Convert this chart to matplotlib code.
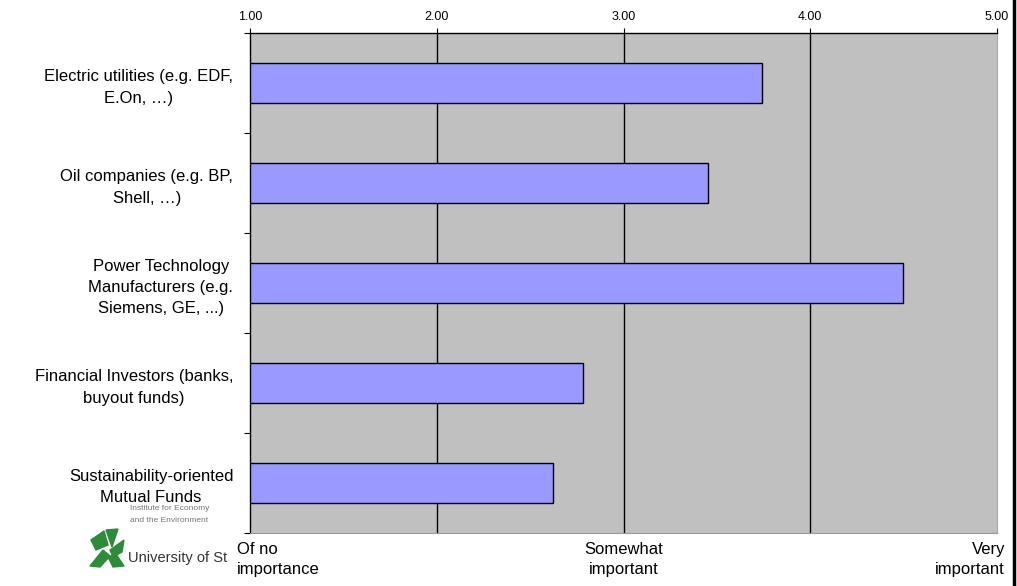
import matplotlib
matplotlib.use("Agg")
import matplotlib.pyplot as plt
from matplotlib.patches import Polygon
from matplotlib.lines import Line2D

plt.rcParams['font.family'] = ['Liberation Sans', 'DejaVu Sans']

categories = ["Electric utilities (e.g. EDF,\nE.On, \u2026)",
              "Oil companies (e.g. BP,\nShell, \u2026)",
              "Power Technology\nManufacturers (e.g.\nSiemens, GE, ...)",
              "Financial Investors (banks,\nbuyout funds)",
              "Sustainability-oriented\nMutual Funds"]
values = [3.74, 3.45, 4.495, 2.785, 2.625]
xticks = [1.0, 2.0, 3.0, 4.0, 5.0]
xtick_labels = ["1.00", "2.00", "3.00", "4.00", "5.00"]
scale_labels = ["Of no\nimportance", "Somewhat\nimportant", "Very\nimportant"]
scale_pos = [1.0, 3.0, 5.0]

W, H = 1017, 586
fig = plt.figure(figsize=(W / 100, H / 100), dpi=100)
fig.patch.set_facecolor('white')

# overlay for logo (behind main axes)
ov = fig.add_axes([0, 0, 1, 1], zorder=0)
ov.set_xlim(0, W)
ov.set_ylim(H, 0)
ov.axis('off')
green = '#2e8b3a'
ov.add_patch(Polygon([(91, 540), (104, 531), (108, 545), (96, 550)], closed=True, color=green))
ov.add_patch(Polygon([(106, 530), (118, 529), (112, 547)], closed=True, color=green))
ov.add_patch(Polygon([(90, 566), (103, 550), (110, 556), (100, 567)], closed=True, color=green))
ov.add_patch(Polygon([(110, 550), (124, 540), (122, 552), (113, 557)], closed=True, color=green))
ov.add_patch(Polygon([(108, 557), (116, 554), (124, 566), (113, 567)], closed=True, color=green))
ov.text(130, 509, "Institute for Economy", fontsize=6.0, color='#777777', va='center', ha='left')
ov.text(130, 521, "and the Environment", fontsize=6.0, color='#777777', va='center', ha='left')
ov.text(128, 558, "University of St", fontsize=10.5, color='#333333', va='center', ha='left')

ax = fig.add_axes([250 / W, 1 - 533 / H, (997 - 250) / W, 500 / H], zorder=2)
ax.set_facecolor('#C0C0C0')
ypos = list(range(len(categories)))
ax.barh(ypos, [v - 1 for v in values], left=1, height=0.4, color='#9999FF',
        edgecolor='black', linewidth=1.0, zorder=3)
ax.set_xlim(1, 5)
ax.set_ylim(len(categories) - 0.5, -0.5)

ax.xaxis.tick_top()
ax.set_xticks(xticks)
ax.set_xticklabels(xtick_labels, fontsize=9)
ax.tick_params(axis='x', direction='out', length=3.5, width=0.8, pad=4, colors='black')
for x in xticks[1:-1]:
    ax.axvline(x, color='black', linewidth=1.0, zorder=1)

ax.set_yticks(ypos)
ax.set_yticklabels(categories, fontsize=12, multialignment='center', linespacing=1.5)
ax.tick_params(axis='y', which='major', length=0, pad=12)
ax.set_yticks([i - 0.5 for i in range(len(categories) + 1)], minor=True)
ax.tick_params(axis='y', which='minor', direction='out', length=4, width=0.8)

ax.spines['left'].set_color('black')
ax.spines['top'].set_color('black')
ax.spines['left'].set_linewidth(1.0)
ax.spines['top'].set_linewidth(1.0)
ax.spines['bottom'].set_color('#999999')
ax.spines['right'].set_color('#A8A8A8')

# scale labels below the axes
aligns = ['left', 'center', 'right']
offs = [-13, 0, 8]
for lab, xp, ha, off in zip(scale_labels, scale_pos, aligns, offs):
    ax.annotate(lab, xy=(xp, 0), xycoords=('data', 'axes fraction'),
                xytext=(off, -9), textcoords='offset pixels', ha=ha, va='top',
                fontsize=12, multialignment=ha, linespacing=1.42,
                annotation_clip=False,
                bbox=dict(facecolor='white', edgecolor='none', pad=1) if ha == 'left' else None)

# slide border on the right
fig.add_artist(Line2D([1013.5 / W, 1013.5 / W], [0, 1], color='black', linewidth=2.5,
                      transform=fig.transFigure))

fig.savefig('out.png', dpi=100, facecolor='white')
